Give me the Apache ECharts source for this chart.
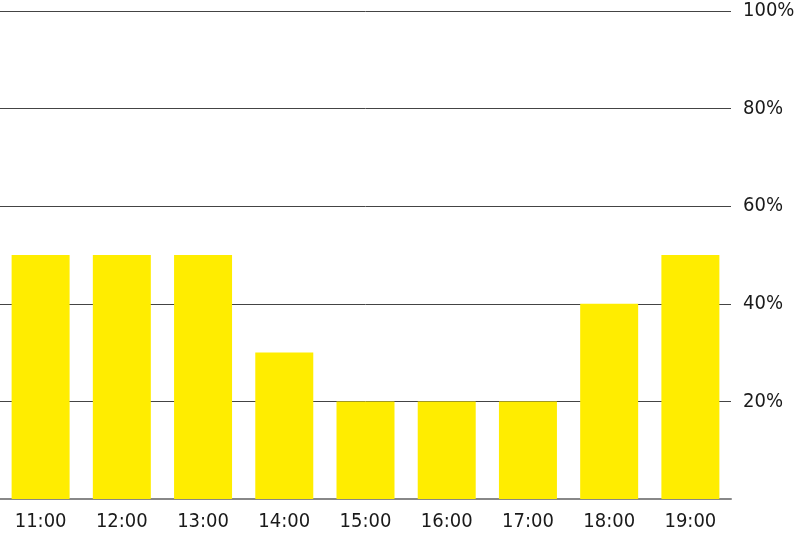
<!DOCTYPE html>
<html><head><meta charset="utf-8">
<script src="https://cdn.jsdelivr.net/npm/echarts@6/dist/echarts.min.js"></script>
<style>html,body{margin:0;padding:0;background:#fff}#c{width:800px;height:539px}</style>
</head><body><div id="c"></div>
<script>
const categories = ['11:00','12:00','13:00','14:00','15:00','16:00','17:00','18:00','19:00'];
const values = [50,50,50,30,20,20,20,40,50];
const yTicks = [0,20,40,60,80,100];
const chart = echarts.init(document.getElementById('c'));
const font = '"DejaVu Sans Condensed", "Noto Sans", sans-serif';
chart.setOption({
  animation:false,
  grid:{left:0,right:69,top:11,bottom:40,containLabel:false},
  xAxis:{type:'category',data:categories,
    axisLine:{lineStyle:{color:'#888',width:2}},axisTick:{show:false},
    axisLabel:{color:'#1a1a1a',fontSize:20,fontFamily:font,margin:13}},
  yAxis:{type:'value',position:'right',min:yTicks[0],max:yTicks[yTicks.length-1],interval:20,
    axisLine:{show:false},axisTick:{show:false},
    splitLine:{lineStyle:{color:'#444',width:1}},
    axisLabel:{color:'#1a1a1a',fontSize:20,fontFamily:font,margin:12,showMinLabel:false,
      formatter:v=> v===0?'':v+'%'}},
  series:[{type:'bar',data:values,barCategoryGap:'28.6%',itemStyle:{color:'#FFED00'}}]
});
</script></body></html>
